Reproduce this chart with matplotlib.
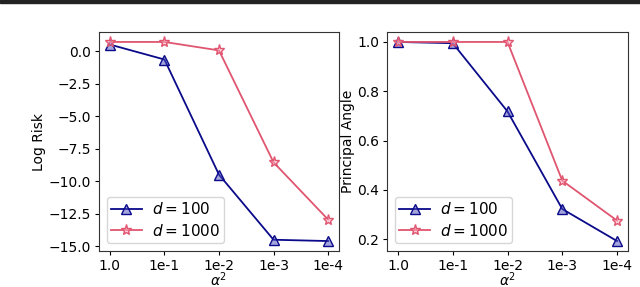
import matplotlib
matplotlib.use("Agg")
import matplotlib.pyplot as plt
from matplotlib.patches import Rectangle

# x categories (alpha^2)
alpha_labels = ["1.0", "1e-1", "1e-2", "1e-3", "1e-4"]

# Log risk
risk_d100 = [0.5, -0.65, -9.5, -14.5, -14.6]
risk_d1000 = [0.7, 0.7, 0.05, -8.55, -12.95]

# Principal angle
angle_d100 = [1.0, 0.995, 0.718, 0.322, 0.192]
angle_d1000 = [1.0, 1.0, 1.0, 0.437, 0.275]

BLUE = "#0a0a8a"
PINK = "#e05570"

fig = plt.figure(figsize=(6.4, 2.87), dpi=100)
ax1 = fig.add_axes([99 / 640, 1 - 251 / 287, 240 / 640, 219 / 287])
ax2 = fig.add_axes([387 / 640, 1 - 251 / 287, 241 / 640, 219 / 287])

# dark strip along the top edge of the crop
fig.patches.append(Rectangle((0, 1 - 3 / 287), 1, 3 / 287, transform=fig.transFigure,
                             color="#222222", zorder=10))

x = list(range(len(alpha_labels)))
for ax, y100, y1000, ylabel in [(ax1, risk_d100, risk_d1000, "Log Risk"),
                                (ax2, angle_d100, angle_d1000, "Principal Angle")]:
    ax.plot(x, y100, "-^", color=BLUE, lw=1.3, ms=7,
            mfc=(0.3, 0.3, 0.75, 0.5), mec=BLUE, mew=1.0, label="$d = 100$")
    ax.plot(x, y1000, "-*", color=PINK, lw=1.3, ms=8,
            mfc=(1.0, 0.7, 0.78, 0.5), mec=PINK, mew=1.0, label="$d = 1000$")
    ax.set_xticks(x)
    ax.set_xticklabels(alpha_labels)
    ax.tick_params(labelsize=10, pad=2.5, length=3)
    ax.set_xlabel(r"$\alpha^2$", fontsize=10, labelpad=-1.5)
    ax.set_ylabel(ylabel, fontsize=10, labelpad=2)
    for s in ax.spines.values():
        s.set_color("#333333")
    ax.legend(loc="lower left", fontsize=11, handlelength=2.0, borderpad=0.3,
              labelspacing=0.35, handletextpad=0.65)

ax1.set_yticks([0.0, -2.5, -5.0, -7.5, -10.0, -12.5, -15.0])
ax2.set_yticks([0.2, 0.4, 0.6, 0.8, 1.0])

fig.savefig("out.png", dpi=100)
